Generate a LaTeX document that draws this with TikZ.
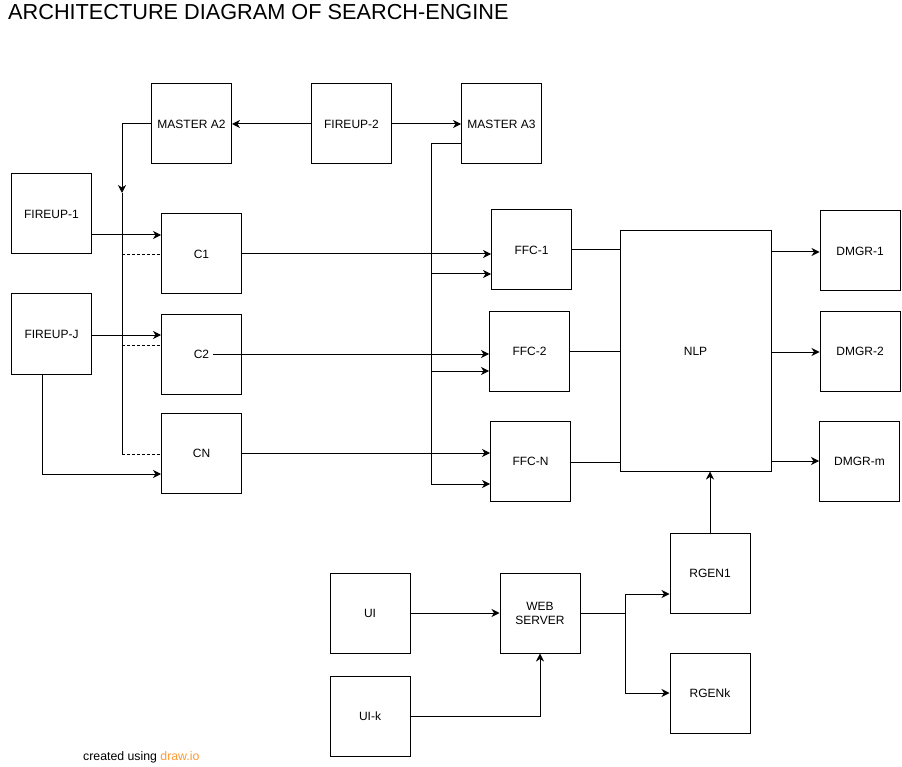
\documentclass[tikz,border=0pt]{standalone}
\usepackage{fontspec}
\setmainfont{Liberation Sans}
\usetikzlibrary{arrows.meta}
\definecolor{dioorange}{RGB}{255,153,51}
\begin{document}
\begin{tikzpicture}[x=1pt,y=-1pt,
  box/.style={draw,line width=1pt,minimum width=80pt,minimum height=80pt,inner sep=0pt,align=center,font=\fontsize{12}{14}\selectfont},
  conn/.style={line width=1pt},
  arr/.style={conn,-{Stealth[length=8pt,width=8pt,inset=2.5pt]}},
  dsh/.style={line width=0.8pt,dashed,dash pattern=on 3pt off 2pt}]
\useasboundingbox (0,0) rectangle (902,767);
% title
\node[anchor=base west,inner sep=0pt,font=\fontsize{21.7}{24}\selectfont] (title) at (8,20) {ARCHITECTURE DIAGRAM OF SEARCH-ENGINE};
% boxes
\node[box] (ma2) at (191.5,124) {MASTER A2};
\node[box] (fu2) at (351.5,124) {FIREUP-2};
\node[box] (ma3) at (501.5,124) {MASTER A3};
\node[box] (fu1) at (51.5,214) {FIREUP-1};
\node[box] (c1) at (201.5,254) {C1};
\node[box] (fuj) at (51.5,334) {FIREUP-J};
\node[box] (c2) at (201.5,354) {C2};
\node[box] (cn) at (201.5,453) {CN};
\node[box] (ffc1) at (531.5,250) {FFC-1};
\node[box] (ffc2) at (529.5,351) {FFC-2};
\node[box] (ffcn) at (530.5,461) {FFC-N};
\node[box,minimum width=151pt,minimum height=240pt] (nlp) at (695.5,351) {NLP};
\node[box] (dm1) at (860,251) {DMGR-1};
\node[box] (dm2) at (860,351) {DMGR-2};
\node[box] (dmm) at (859.5,461) {DMGR-m};
\node[box] (ui) at (370,613) {UI};
\node[box] (uik) at (370,716) {UI-k};
\node[box] (web) at (540,613) {WEB\\SERVER};
\node[box] (rg1) at (710,573) {RGEN1};
\node[box] (rgk) at (710,693) {RGENk};
% bus coordinates
\coordinate (busA) at (122,193);
\coordinate (busB) at (122,454);
\coordinate (busC) at (431,144);
\coordinate (busD) at (431,484);
\coordinate (split) at (625,613);
% top row
\draw[arr] (fu2.west) -- (ma2.east);
\draw[arr] (fu2.east) -- (ma3.west);
% master A2 bus
\draw[arr] (ma2.west) -| (busA);
\draw[conn] (busA) -- (busB);
\draw[dsh] (busA |- c1.west) -- (c1.west);
\draw[dsh] (busA |- 0,345) -- (c2.west |- 0,345);
\draw[dsh] (busB) -- (cn.west |- busB);
% fireups
\draw[arr] (fu1.east |- 0,235) -- (c1.west |- 0,235);
\draw[arr] (fuj.east |- 0,335) -- (c2.west |- 0,335);
\draw[arr] ([xshift=-9.5pt]fuj.south) |- (cn.west |- 0,474);
% C to FFC
\draw[arr] (c1.east) -- (ffc1.west |- c1.east);
\draw[arr] ([xshift=11.5pt]c2.center) -- (ffc2.west |- c2.center);
\draw[arr] (cn.east) -- (ffcn.west |- cn.east);
% master A3 bus
\draw[conn] (ma3.west |- busC) -- (busC) -- (busD);
\draw[arr] (busD) -- (ffcn.west |- busD);
\draw[arr] (busC |- 0,274) -- (ffc1.west |- 0,274);
\draw[arr] (busC |- 0,371) -- (ffc2.west |- 0,371);
% FFC to NLP
\draw[conn] (ffc1.east) -- (nlp.west |- ffc1.east);
\draw[conn] (ffc2.east) -- (nlp.west |- ffc2.east);
\draw[conn] (ffcn.east |- 0,462) -- (nlp.west |- 0,462);
% NLP to DMGR
\draw[arr] (nlp.east |- 0,252) -- (dm1.west |- 0,252);
\draw[arr] (nlp.east |- 0,352) -- (dm2.west |- 0,352);
\draw[arr] (nlp.east |- dmm.west) -- (dmm.west);
% RGEN1 to NLP
\draw[arr] (rg1.north) -- (nlp.south -| rg1.north);
% UI
\draw[arr] (ui.east) -- (web.west);
\draw[arr] (uik.east) -| (web.south);
\draw[conn] (web.east) -- (split);
\draw[arr] (split) |- (rg1.west |- 0,594);
\draw[arr] (split) |- (rgk.west);
% footer
\node[anchor=base west,inner sep=0pt,font=\fontsize{12.3}{14}\selectfont] (foot) at (83,760) {created using \textcolor{dioorange}{draw.io}};
\end{tikzpicture}
\end{document}
